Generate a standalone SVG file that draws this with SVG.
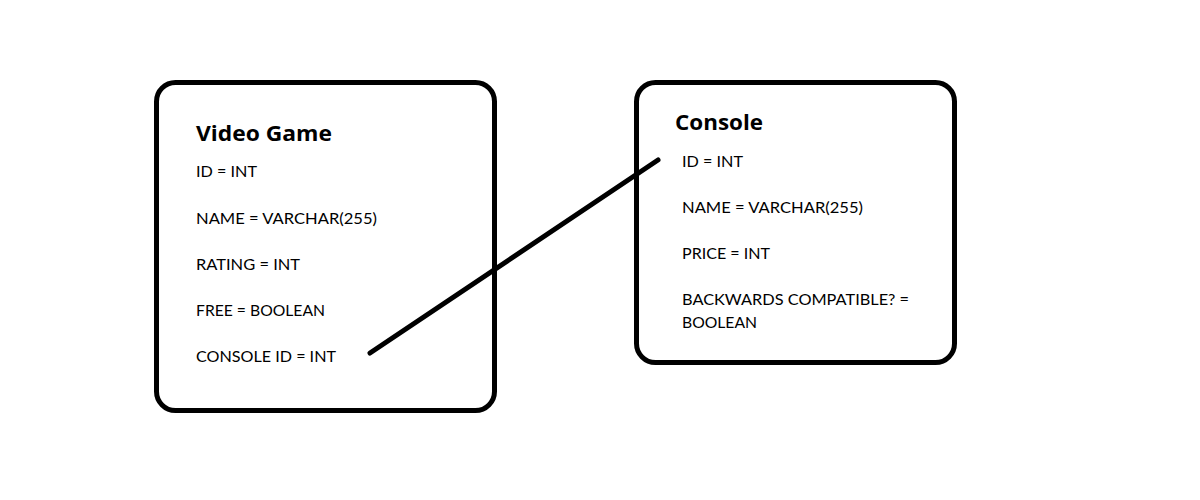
<svg xmlns="http://www.w3.org/2000/svg" width="1200" height="500" viewBox="0 0 1200 500">
<style>
.box{fill:#fff;stroke:#000;stroke-width:5}
.title{font-family:"Open Sans","Noto Sans",sans-serif;font-weight:bold;font-size:21px;fill:#000}
.attr{font-family:Lato,"Open Sans",sans-serif;font-size:15.5px;fill:#000}
.conn{stroke:#000;stroke-width:5;stroke-linecap:round;fill:none}
</style>
<rect width="1200" height="500" fill="#fff"/>
<g id="video-game">
<rect class="box" x="156.5" y="82.5" width="338" height="328" rx="19"/>
<text class="title" x="196" y="141" textLength="136" lengthAdjust="spacingAndGlyphs">Video Game</text>
<text class="attr" x="196" y="177" textLength="61" lengthAdjust="spacingAndGlyphs">ID = INT</text>
<text class="attr" x="196" y="223.5" textLength="181" lengthAdjust="spacingAndGlyphs">NAME = VARCHAR(255)</text>
<text class="attr" x="196" y="270" textLength="104" lengthAdjust="spacingAndGlyphs">RATING = INT</text>
<text class="attr" x="196" y="316" textLength="129" lengthAdjust="spacingAndGlyphs">FREE = BOOLEAN</text>
<text class="attr" x="196" y="362" textLength="140" lengthAdjust="spacingAndGlyphs">CONSOLE ID = INT</text>
</g>
<g id="console">
<rect class="box" x="636.5" y="82.5" width="318" height="280" rx="19"/>
<text class="title" x="675" y="129.5" textLength="88" lengthAdjust="spacingAndGlyphs">Console</text>
<text class="attr" x="682" y="167" textLength="61" lengthAdjust="spacingAndGlyphs">ID = INT</text>
<text class="attr" x="682" y="213" textLength="181" lengthAdjust="spacingAndGlyphs">NAME = VARCHAR(255)</text>
<text class="attr" x="682" y="258.5" textLength="88" lengthAdjust="spacingAndGlyphs">PRICE = INT</text>
<text class="attr" x="682" y="304.5" textLength="227" lengthAdjust="spacingAndGlyphs">BACKWARDS COMPATIBLE? =</text>
<text class="attr" x="682" y="327.5" textLength="75" lengthAdjust="spacingAndGlyphs">BOOLEAN</text>
</g>
<g id="connectors">
<line class="conn" x1="370" y1="353" x2="658" y2="160"/>
</g>
</svg>
